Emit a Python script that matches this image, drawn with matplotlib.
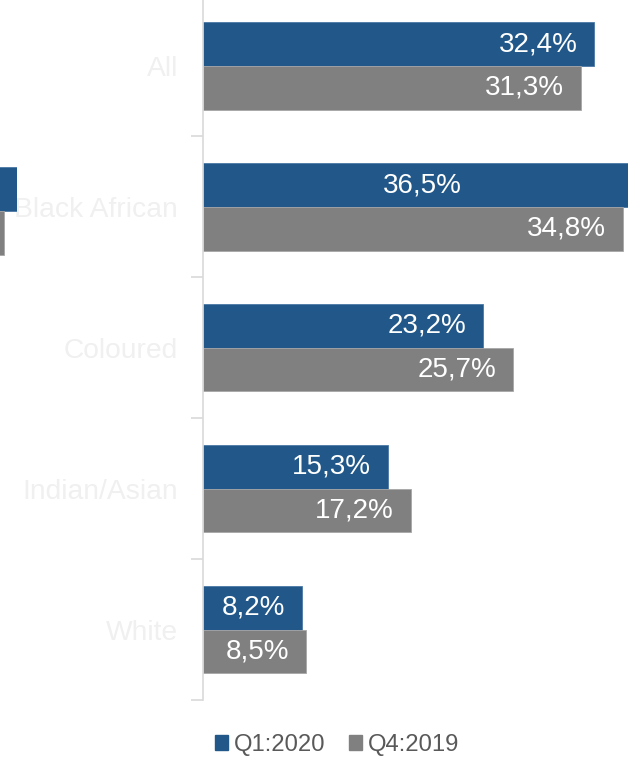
import numpy as np
import matplotlib
matplotlib.use('Agg')
import matplotlib.pyplot as plt
from matplotlib.patches import Patch

# ------------------------- datos -------------------------
categorias = ['All', 'Black African', 'Coloured', 'Indian/Asian', 'White']
q1_2020 = [32.4, 36.5, 23.2, 15.3, 8.2]
q4_2019 = [31.3, 34.8, 25.7, 17.2, 8.5]
series = ['Q1:2020', 'Q4:2019']

# fragmento del panel vecino (recortado a la izquierda), solo fila Black African
frag_q1 = [36.5]
frag_q4 = [34.8]

azul = '#215889'
gris = '#808080'
plt.rcParams['font.family'] = ['Liberation Sans', 'DejaVu Sans']

W, H = 634, 769
fig = plt.figure(figsize=(W / 100, H / 100), dpi=100)

# ejes principales
x0, x1 = 203, 628
ytop, ybot = -4.5, 700
ax = fig.add_axes([x0 / W, 1 - ybot / H, (x1 - x0) / W, (ybot - ytop) / H])

y = np.arange(len(categorias))
alto = 0.31
b1 = ax.barh(y - alto / 2, q1_2020, height=alto, color=azul, edgecolor='#4a78a4', linewidth=0.6)
b2 = ax.barh(y + alto / 2, q4_2019, height=alto, color=gris, edgecolor='#a6a6a6', linewidth=0.6)

xmax = (x1 - x0) / 12.07
ax.set_xlim(0, xmax)
ax.set_ylim(len(categorias) - 0.5, -0.5)

# etiquetas de valores
for barras, vals in [(b1, q1_2020), (b2, q4_2019)]:
    for rect, v in zip(barras, vals):
        yc = rect.get_y() + rect.get_height() / 2
        txt = f'{v:.1f}%'.replace('.', ',')
        if v > xmax:
            ax.text(xmax / 2 + 0.6, yc, txt, color='white', fontsize=20, ha='center', va='center')
        else:
            ax.annotate(txt, (v, yc), xytext=(-12, 0), textcoords='offset points',
                        color='white', fontsize=20, ha='right', va='center')

# ejes y ticks
for s in ['top', 'right', 'bottom']:
    ax.spines[s].set_visible(False)
ax.spines['left'].set_color('#d9d9d9')
ax.spines['left'].set_linewidth(1.2)
ax.set_xticks([])
ax.set_yticks(y)
ax.set_yticklabels(categorias, fontsize=20.3, color='#f0f0f0')
ax.tick_params(axis='y', which='major', length=0, pad=18)
ax.set_yticks(np.arange(-0.5, len(categorias)), minor=True)
ax.tick_params(axis='y', which='minor', length=9, color='#d9d9d9', width=1.2)

# fragmento del panel de la izquierda
esc2 = 7.6
ax2_left = 17 - 36.5 * esc2
ax2 = fig.add_axes([ax2_left / W, 1 - ybot / H, (17 - ax2_left) / W, (ybot - ytop) / H])
ax2.barh([1 - alto / 2 + 0.03], frag_q1, height=alto, color=azul, edgecolor='#4a78a4', linewidth=0.6)
ax2.barh([1 + alto / 2 + 0.03], frag_q4, height=alto, color=gris, edgecolor='#a6a6a6', linewidth=0.6)
ax2.set_xlim(0, 36.5)
ax2.set_ylim(len(categorias) - 0.5, -0.5)
ax2.axis('off')

# leyenda
handles = [Patch(color=azul), Patch(color=gris)]
fig.legend(handles, series, loc='center', bbox_to_anchor=(337 / W, 1 - 745 / H),
           ncol=2, frameon=False, fontsize=17.2, labelcolor='#595959',
           handlelength=0.55, handleheight=0.55, handletextpad=0.25, columnspacing=1.0)

fig.savefig('out.png', dpi=100)
